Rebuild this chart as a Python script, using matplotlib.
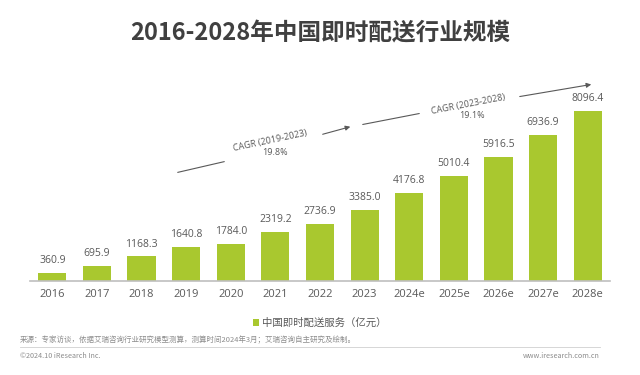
import matplotlib
matplotlib.use("Agg")
import matplotlib.pyplot as plt

plt.rcParams["font.family"] = ["Noto Sans CJK SC", "DejaVu Sans"]

years = ["2016", "2017", "2018", "2019", "2020", "2021", "2022", "2023",
         "2024e", "2025e", "2026e", "2027e", "2028e"]
values = [360.9, 695.9, 1168.3, 1640.8, 1784.0, 2319.2, 2736.9, 3385.0,
          4176.8, 5010.4, 5916.5, 6936.9, 8096.4]
serie = "中国即时配送服务（亿元）"
titulo = "2016-2028年中国即时配送行业规模"
cagr_1 = ("CAGR (2019-2023)", "19.8%")
cagr_2 = ("CAGR (2023-2028)", "19.1%")
fuente = "来源：专家访谈，依据艾瑞咨询行业研究模型测算，测算时间2024年3月；艾瑞咨询自主研究及绘制。"

W, H = 640, 375
verde = "#a9c82f"
gris = "#595959"
latin = ["Open Sans", "DejaVu Sans"]

fig = plt.figure(figsize=(W / 100, H / 100), dpi=100)
fig.patch.set_facecolor("white")


def px(x, y):
    # pixel -> fraccion de figura
    return x / W, 1 - y / H


ax = fig.add_axes([30 / W, (H - 281) / H, 580 / W, 221 / H])
x = range(len(years))
ax.bar(x, values, width=0.63, color=verde, label=serie, zorder=2)
ax.set_xlim(-0.5, 12.5)
ax.set_ylim(0, 8096.4 * 221 / 170)

for i, v in enumerate(values):
    ax.annotate(f"{v:.1f}", (i, v), xytext=(0, 5), textcoords="offset points",
                ha="center", va="bottom", fontsize=7.5, color=gris, family=latin)

for s in ["top", "right", "left"]:
    ax.spines[s].set_visible(False)
ax.spines["bottom"].set_color("#bfbfbf")
ax.spines["bottom"].set_linewidth(1.2)
ax.set_yticks([])
ax.set_xticks(list(x))
ax.set_xticklabels(years, fontsize=8, color=gris, family=latin)
ax.tick_params(axis="x", length=0, pad=6)

fig.text(*px(320, 33), titulo, ha="center", va="center", fontsize=17,
         fontweight="bold", color="#404040")


# flechas CAGR
def linea(p0, p1, flecha=False):
    estilo = "-|>" if flecha else "-"
    fig.add_artist(matplotlib.patches.FancyArrowPatch(
        px(*p0), px(*p1), transform=fig.transFigure, arrowstyle=estilo,
        mutation_scale=7, color=gris, lw=0.8))


linea((175, 173), (227, 161))
linea((320, 135), (353, 126), flecha=True)
linea((360, 125), (422, 113))
linea((517, 97), (594, 84), flecha=True)

fig.text(*px(270, 141), cagr_1[0], ha="center", va="center", fontsize=6.5,
         color=gris, rotation=12, family=latin)
fig.text(*px(275, 153), cagr_1[1], ha="center", va="center", fontsize=6.5,
         color=gris, family=latin)
fig.text(*px(468, 104), cagr_2[0], ha="center", va="center", fontsize=6.5,
         color=gris, rotation=11, family=latin)
fig.text(*px(472, 116), cagr_2[1], ha="center", va="center", fontsize=6.5,
         color=gris, family=latin)

# leyenda
fig.legend(loc="center", bbox_to_anchor=px(320, 323), frameon=False,
           fontsize=7.5, labelcolor=gris, handlelength=0.6, handleheight=0.6,
           handletextpad=0.3)

fig.text(*px(20, 340), fuente, ha="left", va="center", fontsize=5.4, color="#8c8c8c")
fig.add_artist(matplotlib.lines.Line2D([20 / W, 600 / W], [1 - 347 / H, 1 - 347 / H],
                                       color="#d0d0d0", lw=0.6))
fig.text(*px(20, 356), "©2024.10 iResearch Inc.", ha="left", va="center",
         fontsize=5.2, color="#8c8c8c")
fig.text(*px(600, 356), "www.iresearch.com.cn", ha="right", va="center",
         fontsize=5.2, color="#8c8c8c")

fig.savefig("out.png", dpi=100)
